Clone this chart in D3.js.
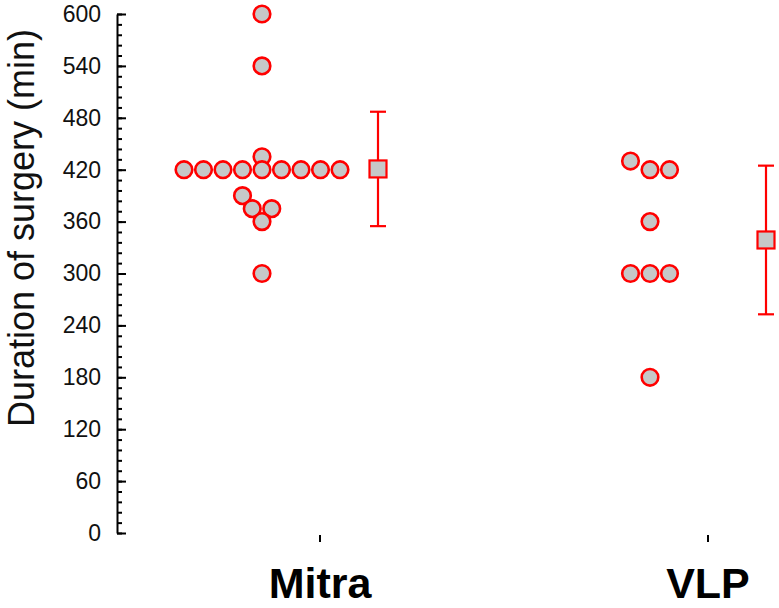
<!DOCTYPE html>
<html>
<head>
<meta charset="utf-8">
<script src="https://cdn.jsdelivr.net/npm/d3@7"></script>
<style>
  body { margin: 0; background: #fff; }
  svg { display: block; font-family: "Liberation Sans", Arial, sans-serif; }
</style>
</head>
<body>
<div id="chart"></div>
<script>
// groups and the values
var categories = ["Mitra", "VLP"];

var mitraValues = [600, 540, 435, 420, 420, 420, 420, 420, 420, 420, 420, 420, 390, 375, 375, 360, 300];
// horizontal slot of each dot in the dot column (beeswarm layout as drawn)
var mitraSlots  = [0, 0, 0, -4, -3, -2, -1, 0, 1, 2, 3, 4, -1, -0.5, 0.5, 0, 0];

var vlpValues = [430, 420, 420, 360, 300, 300, 300, 180];
var vlpSlots  = [-1, 0, 1, 0, -1, 0, 1, 0];

var yMajorTicks = d3.range(0, 601, 60);
var yMinorTicks = d3.range(0, 601, 12);

var groups = [
  {name: categories[0], values: mitraValues, slots: mitraSlots},
  {name: categories[1], values: vlpValues, slots: vlpSlots}
];

var width = 779, height = 608;
var margin = {top: 14, left: 117};
var plotH = 519;

var svg = d3.select("#chart").append("svg")
  .attr("width", width)
  .attr("height", height);

var y = d3.scaleLinear().domain([0, 600]).range([margin.top + plotH, margin.top]);
var x = d3.scalePoint().domain(categories).range([320, 708]);
var slot = d3.scaleLinear().domain([-1, 1]).range([-19.5, 19.5]);
var side = 58;  // dots to the left of the category, mean +/- sd to the right

// minor ticks
svg.append("g")
  .attr("transform", "translate(" + margin.left + ",0)")
  .call(d3.axisLeft(y).tickValues(yMinorTicks).tickSizeInner(-5).tickSizeOuter(0).tickFormat(""))
  .call(function(g) { g.select(".domain").remove(); })
  .selectAll("line").attr("stroke", "#000").attr("stroke-width", 2);

// y axis with major ticks
var yAxis = svg.append("g")
  .attr("transform", "translate(" + margin.left + ",0)")
  .call(d3.axisLeft(y).tickValues(yMajorTicks).tickSizeInner(-9).tickSizeOuter(0).tickPadding(16));
yAxis.select(".domain").attr("stroke", "#000").attr("stroke-width", 2);
yAxis.selectAll("line").attr("stroke", "#000").attr("stroke-width", 2);
yAxis.selectAll("text")
  .attr("font-size", "23px")
  .attr("font-family", "'Liberation Sans', Arial, sans-serif")
  .attr("fill", "#111");

// y axis title
svg.append("text")
  .attr("transform", "translate(34,228) rotate(-90)")
  .attr("text-anchor", "middle")
  .attr("font-size", "36px")
  .attr("fill", "#111")
  .text("Duration of surgery (min)");

// category ticks and labels
svg.selectAll(".cat-tick")
  .data(categories)
  .enter().append("line")
  .attr("x1", function(d) { return x(d); })
  .attr("x2", function(d) { return x(d); })
  .attr("y1", 535).attr("y2", 542)
  .attr("stroke", "#000").attr("stroke-width", 2);

svg.selectAll(".cat-label")
  .data(categories)
  .enter().append("text")
  .attr("x", function(d) { return x(d); })
  .attr("y", 598)
  .attr("text-anchor", "middle")
  .attr("font-size", "43px")
  .attr("font-weight", "bold")
  .attr("fill", "#000")
  .text(function(d) { return d; });

var red = "#ff0000", grey = "#c6c8c8";

groups.forEach(function(grp) {
  var cx = x(grp.name);
  var mean = d3.mean(grp.values);
  var sd = d3.deviation(grp.values);

  // individual dots
  svg.append("g").selectAll("circle")
    .data(grp.values)
    .enter().append("circle")
    .attr("cx", function(d, i) { return cx - side + slot(grp.slots[i]); })
    .attr("cy", function(d) { return y(d); })
    .attr("r", 8.3)
    .attr("fill", grey)
    .attr("stroke", red)
    .attr("stroke-width", 2.6);

  // mean +/- sd
  var mx = cx + side;
  var g = svg.append("g");
  g.append("line")
    .attr("x1", mx).attr("x2", mx)
    .attr("y1", y(mean + sd)).attr("y2", y(mean - sd))
    .attr("stroke", red).attr("stroke-width", 2.2);
  [mean + sd, mean - sd].forEach(function(v) {
    g.append("line")
      .attr("x1", mx - 8).attr("x2", mx + 8)
      .attr("y1", y(v)).attr("y2", y(v))
      .attr("stroke", red).attr("stroke-width", 2.2);
  });
  g.append("rect")
    .attr("x", mx - 8.5).attr("y", y(mean) - 8.5)
    .attr("width", 17).attr("height", 17)
    .attr("fill", grey)
    .attr("stroke", red)
    .attr("stroke-width", 2.2);
});
</script>
</body>
</html>
